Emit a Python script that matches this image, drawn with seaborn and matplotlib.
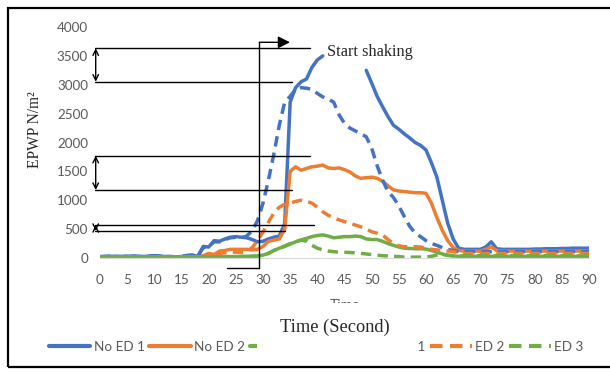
import numpy as np
import pandas as pd
import matplotlib
matplotlib.use('Agg')
import matplotlib.pyplot as plt
import seaborn as sns
from matplotlib.lines import Line2D
from matplotlib.patches import Rectangle

nan = np.nan

# time axis (seconds)
time = list(range(0, 91))

# EPWP readings, one value per second
no_ed_1 = [20, 25, 30, 30, 25, 30, 35, 30, 25, 35,
           40, 35, 25, 25, 20, 25, 45, 50, 30, 200,
           190, 300, 290, 330, 360, 370, 360, 350, 320, 280,
           290, 330, 360, 380, 600, 2700, 2950, 3050, 3100, 3300,
           3430, 3500, nan, nan, nan, nan, nan, nan, nan, 3250,
           3030, 2800, 2620, 2450, 2300, 2230, 2150, 2080, 2000, 1950,
           1870, 1650, 1400, 1000, 600, 330, 170, 150, 150, 150,
           150, 190, 280, 160, 150, 150, 150, 150, 150, 150,
           155, 155, 160, 160, 160, 165, 165, 170, 170, 170,
           170]
no_ed_2 = [15, 15, 20, 20, 15, 20, 20, 15, 15, 20,
           20, 20, 15, 15, 15, 20, 20, 20, 20, 40,
           80, 60, 120, 130, 150, 150, 150, 150, 140, 150,
           200, 290, 310, 330, 500, 1500, 1580, 1520, 1550, 1580,
           1590, 1610, 1560, 1550, 1560, 1530, 1490, 1420, 1380, 1390,
           1400, 1380, 1330, 1250, 1180, 1160, 1150, 1140, 1130, 1130,
           1120, 950, 700, 480, 300, 180, 130, 120, 120, 120,
           120, 150, 190, 130, 120, 120, 120, 120, 120, 120,
           120, 120, 120, 120, 120, 120, 120, 120, 120, 120,
           120]
no_ed_3 = [20, 20, 20, 20, 20, 20, 20, 20, 20, 20,
           20, 20, 20, 20, 20, 20, 20, 20, 20, 20,
           20, 20, 25, 25, 25, 25, 30, 30, 30, 35,
           50, 80, 130, 170, 200, 240, 280, 310, 340, 370,
           390, 400, 380, 350, 360, 370, 370, 380, 370, 330,
           320, 320, 290, 250, 220, 190, 170, 165, 160, 160,
           155, 130, 100, 70, 45, 35, 30, 30, 30, 30,
           30, 30, 30, 30, 30, 30, 30, 30, 30, 30,
           30, 30, 30, 30, 30, 30, 30, 30, 30, 30,
           30]
ed_1 = [25, 30, 30, 25, 25, 30, 30, 25, 25, 30,
        35, 30, 25, 25, 20, 25, 40, 45, 30, 180,
        200, 280, 280, 320, 350, 360, 350, 380, 470, 650,
        950, 1350, 1800, 2300, 2700, 2800, 2920, 2950, 2940, 2920,
        2850, 2790, 2750, 2700, 2480, 2330, 2250, 2200, 2150, 2100,
        1900, 1600, 1350, 1150, 1050, 900, 720, 550, 430, 370,
        300, 250, 220, 180, 150, 130, 110, 110, 110, 110,
        110, 110, 110, 110, 110, 110, 110, 110, 110, 110,
        110, 110, 110, 110, 110, 110, 110, 110, 110, 110,
        110]
ed_2 = [15, 15, 15, 15, 15, 15, 15, 15, 15, 15,
        15, 15, 15, 15, 15, 15, 15, 15, 15, 15,
        20, 50, 80, 90, 100, 100, 100, 110, 180, 300,
        450, 620, 780, 880, 930, 950, 980, 1000, 980, 950,
        880, 800, 740, 700, 660, 630, 600, 570, 540, 500,
        455, 430, 400, 320, 250, 210, 195, 195, 195, 190,
        170, 150, 140, 130, 120, 110, 90, 80, 80, 80,
        80, 80, 80, 80, 80, 80, 80, 80, 80, 80,
        80, 80, 80, 80, 80, 80, 80, 80, 80, 80,
        80]
ed_3 = [20, 20, 20, 20, 20, 20, 20, 20, 20, 20,
        20, 20, 20, 20, 20, 20, 20, 20, 20, 20,
        20, 20, 20, 20, 20, 20, 25, 30, 30, 35,
        50, 80, 130, 170, 210, 250, 290, 310, 290, 220,
        170, 140, 120, 110, 100, 100, 95, 90, 80, 70,
        60, 50, 40, 35, 30, 25, 15, 15, 15, 15,
        15, 30, 50, 60, 50, 40, 40, 40, 40, 40,
        40, 40, 40, 40, 40, 40, 40, 40, 40, 40,
        40, 40, 40, 40, 40, 40, 40, 40, 40, 40,
        40]

series_names = ['No ED 1', 'No ED 2', 'No ED 3', 'ED 1', 'ED 2', 'ED 3']
series_values = [no_ed_1, no_ed_2, no_ed_3, ed_1, ed_2, ed_3]
series_colors = ['#4472C4', '#ED7D31', '#70AD47', '#4472C4', '#ED7D31', '#70AD47']
series_dashed = [False, False, False, True, True, True]

x_ticks = [0, 5, 10, 15, 20, 25, 30, 35, 40, 45, 50, 55, 60, 65, 70, 75, 80, 85, 90]
y_ticks = [0, 500, 1000, 1500, 2000, 2500, 3000, 3500, 4000]

# annotation marks drawn over the chart (data units)
shake_t = 29.3
band_lines = [(3631, 38.65), (3053, 35.34), (1771, 38.65), (1177, 35.34), (571, 39.3), (468, 34.05)]
band_arrows = [(3631, 3053), (1771, 1177), (571, 468)]

DASH = (3, 1.8)
GREY = '#595959'


def build_frame():
    rows = []
    for name, values in zip(series_names, series_values):
        seg = 0
        for t, v in zip(time, values):
            if np.isnan(v):
                seg += 1
                continue
            rows.append({'time': t, 'epwp': v, 'series': name, 'segment': f'{name}-{seg}'})
    return pd.DataFrame(rows)


def main():
    sns.set_style('white')
    plt.rcParams['font.family'] = ['Lato', 'DejaVu Sans']

    df = build_frame()
    palette = dict(zip(series_names, series_colors))
    dashes = {n: (DASH if d else '') for n, d in zip(series_names, series_dashed)}

    fig = plt.figure(figsize=(6.1, 3.72), dpi=100)
    ax = fig.add_axes([100 / 610, 1 - 258 / 372, 489 / 610, 231 / 372])

    sns.lineplot(data=df, x='time', y='epwp', hue='series', style='series',
                 hue_order=series_names, style_order=series_names,
                 units='segment', estimator=None, palette=palette, dashes=dashes,
                 lw=2.5, legend=False, ax=ax)

    ax.set_xlim(0, 90)
    ax.set_ylim(0, 4000)
    ax.set_xticks(x_ticks)
    ax.set_yticks(y_ticks)
    sns.despine(ax=ax, left=True)
    ax.spines['bottom'].set_color('#D9D9D9')
    ax.tick_params(axis='y', length=0, pad=8.6, labelcolor=GREY, labelsize=9.7)
    ax.tick_params(axis='x', length=3, color='#D9D9D9', pad=8.5, labelcolor=GREY, labelsize=9.7)

    ax.set_xlabel('Time', color=GREY, fontsize=10)
    ax.xaxis.set_label_coords(0.5, -0.178)
    ax.set_ylabel('EPWP N/m²', family='Liberation Serif', fontsize=11.2, va='center')
    ax.yaxis.set_label_coords(-0.133, 0.555)

    # bracket marks and the start-shaking arrow
    ann = dict(color='black', lw=1, clip_on=False, zorder=5)
    for y_val, x_end in band_lines:
        ax.plot([-0.92, x_end], [y_val, y_val], **ann)
    for y_top, y_bot in band_arrows:
        ax.annotate('', xy=(-0.79, y_top), xytext=(-0.79, y_bot),
                    arrowprops=dict(arrowstyle='<->', color='black', lw=1, shrinkA=0, shrinkB=0),
                    annotation_clip=False)
    ax.plot([shake_t, shake_t], [3735, -173], **ann)
    ax.plot([23.4, shake_t], [-173, -173], **ann)
    ax.annotate('', xy=(34.97, 3735), xytext=(shake_t, 3735),
                arrowprops=dict(arrowstyle='-|>', mutation_scale=18, color='black', lw=1,
                                shrinkA=0, shrinkB=0),
                annotation_clip=False)
    ax.text(41.8, 3567, 'Start shaking', family='Liberation Serif', fontsize=11.7,
            ha='left', va='center')

    handles = [Line2D([], [], color=c, lw=3, dashes=(DASH if d else (None, None)))
               for c, d in zip(series_colors, series_dashed)]
    ax.legend(handles, series_names, ncol=6, loc='center',
              bbox_to_anchor=(316 / 610, 1 - 347 / 372), bbox_transform=fig.transFigure,
              frameon=False, handlelength=3.1, handletextpad=0.25, columnspacing=0.35,
              fontsize=9.7, labelcolor=GREY)

    # white patch over part of the legend / axis title, as in the original
    fig.add_artist(Rectangle((257 / 610, 1 - 358 / 372), 158 / 610, 55 / 372,
                             transform=fig.transFigure, facecolor='white',
                             edgecolor='none', zorder=1))
    fig.text(335 / 610, 1 - 327 / 372, 'Time (Second)', family='Liberation Serif',
             fontsize=13.2, ha='center', va='center', zorder=3)
    fig.add_artist(Rectangle((8 / 610, 1 - 367 / 372), 610 / 610, 359 / 372,
                             transform=fig.transFigure, fill=False,
                             edgecolor='black', lw=1.6, zorder=2))

    fig.savefig('out.png', dpi=100)


if __name__ == '__main__':
    main()
